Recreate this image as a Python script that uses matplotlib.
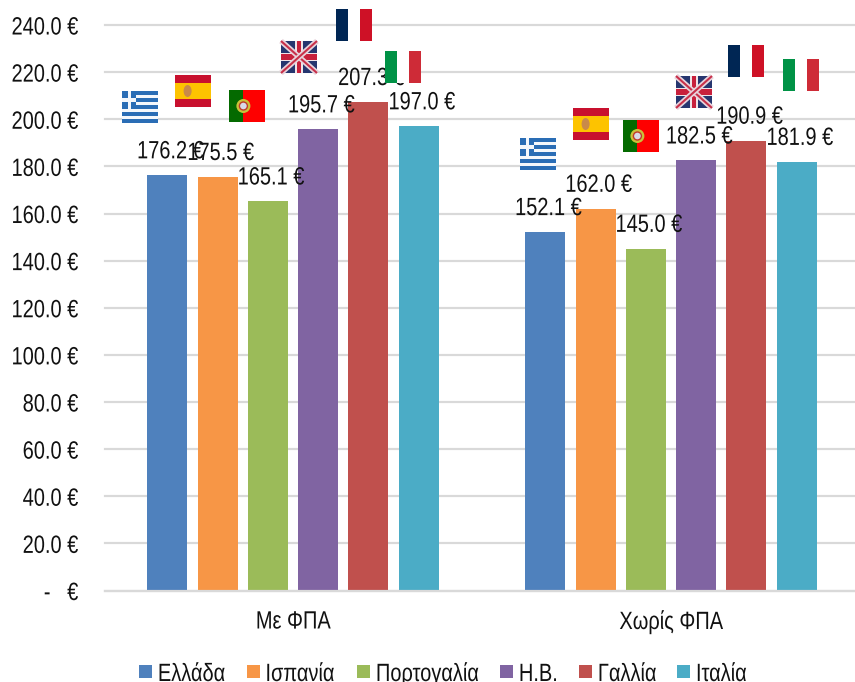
"""Monthly cost bars per country, with and without VAT, small flags drawn on top."""

import matplotlib

matplotlib.use("Agg")
import matplotlib.pyplot as plt
from matplotlib.patches import Circle, Ellipse, Rectangle
from matplotlib.patheffects import AbstractPathEffect
from matplotlib.transforms import Affine2D

W, H = 855, 682

GROUPS = ["Με ΦΠΑ", "Χωρίς ΦΠΑ"]
COUNTRIES = ["Ελλάδα", "Ισπανία", "Πορτογαλία", "Η.Β.", "Γαλλία", "Ιταλία"]
WITH_VAT = [176.2, 175.5, 165.1, 195.7, 207.3, 197.0]
WITHOUT_VAT = [152.1, 162.0, 145.0, 182.5, 190.9, 181.9]
COLORS = ["#4F81BD", "#F79646", "#9BBB59", "#8064A2", "#C0504D", "#4BACC6"]
Y_TICKS = [0, 20, 40, 60, 80, 100, 120, 140, 160, 180, 200, 220, 240]
Y_LABELS = ["-   €"] + [f"{v:.1f} €" for v in Y_TICKS[1:]]

# flag boxes in image pixels: left, top
FLAG_POS = {
    "gr": [(122, 91), (520, 138)],
    "es": [(175, 75), (573, 108)],
    "pt": [(229, 90), (623, 120)],
    "uk": [(281, 41), (676, 76)],
    "fr": [(336, 9), (728, 45)],
    "it": [(385, 51), (783, 59)],
}
LEGEND_LEFT = [139, 246.5, 357, 500, 579, 677]

plt.rcParams["font.family"] = ["Liberation Sans"]

FONT_PX = 25
NARROW = 0.8


def px(n):
    return n * 72 / 100


class Condense(AbstractPathEffect):
    """Squeeze text sideways, no narrow font is installed."""

    def __init__(self, anchor="center", right=None):
        super().__init__()
        self.anchor = anchor
        self.right = right

    def draw_path(self, renderer, gc, tpath, affine, rgbFace=None):
        ext = tpath.get_extents(affine)
        pivot = {"left": ext.x0, "center": (ext.x0 + ext.x1) / 2, "right": ext.x1}[self.anchor]
        target = pivot if self.right is None else self.right
        squeeze = Affine2D().translate(-pivot, 0).scale(NARROW, 1).translate(target, 0)
        renderer.draw_path(gc, tpath, affine + squeeze, rgbFace)


def draw_flag(ov, code, x, y, w=36, h=32):
    def box(x0, y0, bw, bh, c):
        ov.add_patch(Rectangle((x + x0 * w, y + y0 * h), bw * w, bh * h, fc=c, ec="none"))

    if code == "gr":
        box(0, 0, 1, 1, "#F4F7FB")
        for i in range(0, 9, 2):
            box(0, i / 9, 1, 1 / 9, "#2A6DB5")
        box(0, 0, 0.4, 5 / 9, "#2A6DB5")
        box(0.16, 0, 0.08, 5 / 9, "#F4F7FB")
        box(0, 2 / 9, 0.4, 1 / 9, "#F4F7FB")
    elif code == "es":
        box(0, 0, 1, 1, "#C8102E")
        box(0, 0.25, 1, 0.5, "#FDC300")
        ov.add_patch(Ellipse((x + 0.35 * w, y + 0.5 * h), 8, 12, fc="#C98A4A", ec="none"))
    elif code == "pt":
        box(0, 0, 0.4, 1, "#046A00")
        box(0.4, 0, 0.6, 1, "#FE0000")
        ov.add_patch(Circle((x + 0.4 * w, y + 0.5 * h), 7, fc="#C9C23A", ec="none"))
        ov.add_patch(Circle((x + 0.4 * w, y + 0.5 * h), 4, fc="#D9D9E8", ec="#C0392B", lw=1))
    elif code == "uk":
        box(0, 0, 1, 1, "#26366F")
        for a, b in [((0, 0), (1, 1)), ((0, 1), (1, 0))]:
            xs = [x + a[0] * w, x + b[0] * w]
            ys = [y + a[1] * h, y + b[1] * h]
            ov.plot(xs, ys, color="#E8D4DC", lw=4, solid_capstyle="butt")
            ov.plot(xs, ys, color="#C8304A", lw=1.5, solid_capstyle="butt")
        box(0.38, 0, 0.24, 1, "#F0E4E8")
        box(0, 0.36, 1, 0.28, "#F0E4E8")
        box(0.44, 0, 0.12, 1, "#C8203C")
        box(0, 0.42, 1, 0.16, "#C8203C")
    elif code == "fr":
        box(0, 0, 0.34, 1, "#002654")
        box(0.34, 0, 0.32, 1, "white")
        box(0.66, 0, 0.34, 1, "#CE1126")
    elif code == "it":
        box(0, 0, 0.34, 1, "#009246")
        box(0.34, 0, 0.32, 1, "white")
        box(0.66, 0, 0.34, 1, "#CE2B37")


fig = plt.figure(figsize=(W / 100, H / 100), dpi=100)
ax = fig.add_axes([105 / W, (H - 590.5) / H, 750 / W, 565.5 / H])

bar_w = 40 / 378
step = 50.3 / 378
for g, values in enumerate([WITH_VAT, WITHOUT_VAT]):
    for i, v in enumerate(values):
        xpos = g + (i - 2.5) * step
        ax.bar(xpos, v, bar_w, color=COLORS[i])
        ax.annotate(
            f"{v:.1f} €",
            (xpos, v),
            xytext=(px(3), px(24)),
            textcoords="offset points",
            ha="center",
            va="center",
            fontsize=px(FONT_PX),
            color="#111111",
            annotation_clip=False,
            path_effects=[Condense()],
        )

ax.set_xlim(-188 / 378, 562 / 378)
ax.set_ylim(0, 240)
ax.set_xticks(range(len(GROUPS)), GROUPS)
ax.set_yticks(Y_TICKS, Y_LABELS)
ax.set_axisbelow(True)
ax.grid(axis="y", color="#D9D9D9", lw=px(2.2), clip_on=False)
# left aligned at x=11, the effect moves the right edge of each label to x=78
ax.tick_params(axis="y", length=0, pad=px(94), labelsize=px(FONT_PX), labelcolor="#111111")
ax.tick_params(axis="x", length=0, pad=px(19), labelsize=px(FONT_PX), labelcolor="#111111")
for lab in ax.get_yticklabels():
    lab.set_ha("left")
    lab.set_path_effects([Condense("right", right=78)])
for lab in ax.get_xticklabels():
    lab.set_path_effects([Condense()])
for name in ("top", "left", "right"):
    ax.spines[name].set_visible(False)
ax.spines["bottom"].set_color("#D9D9D9")
ax.spines["bottom"].set_linewidth(px(2.2))

# overlay in image pixels for legend and flags, the flags sit over the labels
ov = fig.add_axes([0, 0, 1, 1], zorder=5)
ov.patch.set_alpha(0)
ov.axis("off")
for code, spots in FLAG_POS.items():
    for x, y in spots:
        draw_flag(ov, code, x, y)
for left, name, color in zip(LEGEND_LEFT, COUNTRIES, COLORS):
    ov.add_patch(Rectangle((left, 665), 13, 13, fc=color, ec="none"))
    ov.text(
        left + 18.5,
        681,
        name,
        ha="left",
        va="baseline",
        fontsize=px(FONT_PX),
        color="#111111",
        path_effects=[Condense("left")],
    )
ov.set_xlim(0, W)
ov.set_ylim(H, 0)

fig.savefig("out.png", dpi=100)
